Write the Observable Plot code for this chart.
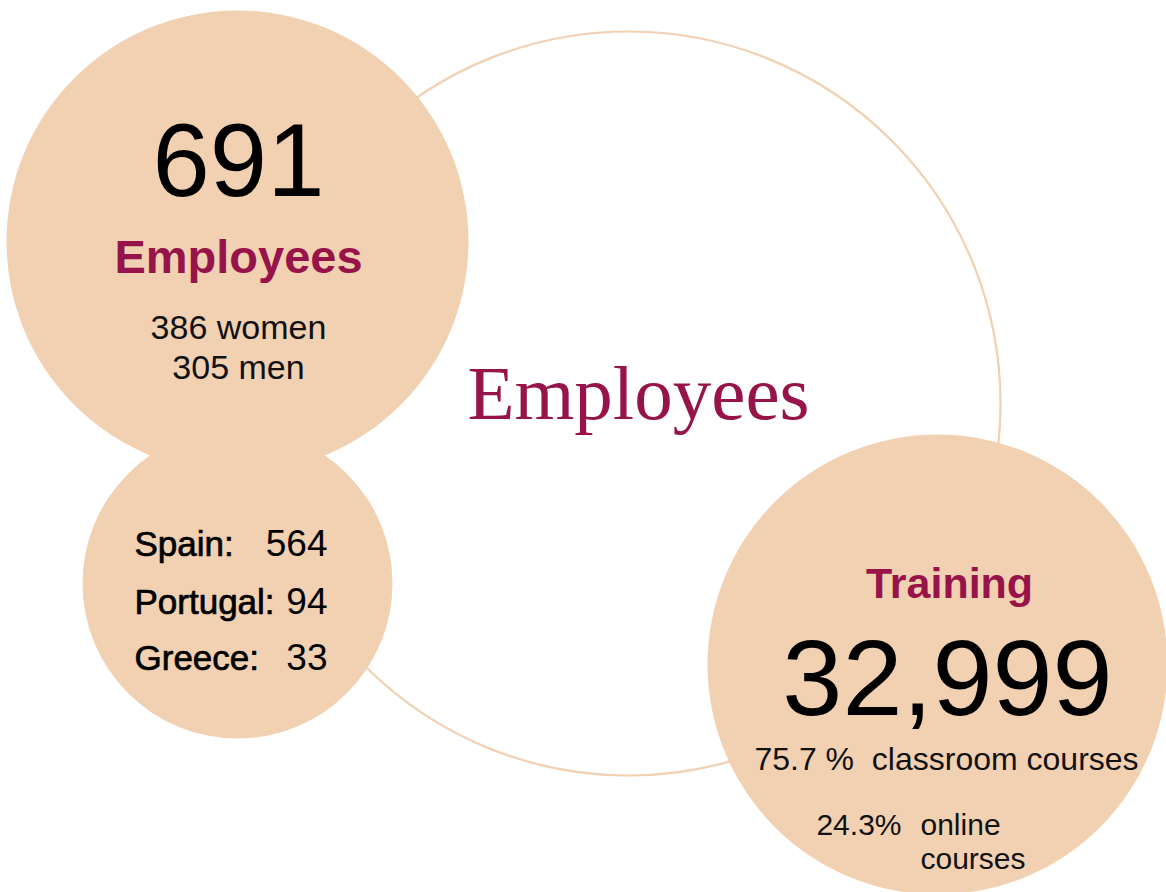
<!DOCTYPE html>
<html>
<head>
<meta charset="utf-8">
<script src="https://cdn.jsdelivr.net/npm/d3@7"></script>
<script src="https://cdn.jsdelivr.net/npm/@observablehq/plot@0.6"></script>
<style>
  html, body { margin: 0; padding: 0; background: #fff; }
  #chart svg { display: block; }
</style>
</head>
<body>
<div id="chart"></div>
<script>
// ---- data ----
const totalEmployees = 691;
const genderLabels = ["women", "men"];
const genderCounts = [386, 305];
const countries = ["Spain", "Portugal", "Greece"];
const countryCounts = [564, 94, 33];
const trainingTotal = 32999;
const courseTypes = ["classroom courses", "online courses"];
const coursePct = ["75.7 %", "24.3%"];

// ---- layout (infographic placement) ----
const bubbleCx = [628, 237, 237, 937];
const bubbleCy = [403, 241, 583, 664];
const bubbleR  = [372, 231, 155, 230];
const bubbleFilled = [false, true, true, true];

const W = 1166, H = 892;
const peach = "#f2d0b2";
const crimson = "#97144a";
const sans = "'Liberation Sans', Arial, sans-serif";
const serif = "'Liberation Serif', 'Times New Roman', serif";

const bubbles = bubbleCx.map((x, i) => ({x, y: bubbleCy[i], r: bubbleR[i], filled: bubbleFilled[i]}));

const fmt = d3.format(",");

const countryRows = countries.map((c, i) => ({label: c + ":", value: countryCounts[i], y: [555, 613, 669][i]}));

const plot = Plot.plot({
  width: W,
  height: H,
  margin: 0,
  x: {domain: [0, W], range: [0, W], axis: null},
  y: {domain: [0, H], range: [0, H], axis: null},
  r: {type: "identity"},
  style: {background: "#fff", overflow: "hidden"},
  marks: [
    Plot.dot(bubbles.filter(d => !d.filled), {x: "x", y: "y", r: "r", fill: "none", stroke: peach, strokeWidth: 2.2}),
    Plot.dot(bubbles.filter(d => d.filled), {x: "x", y: "y", r: "r", fill: peach, stroke: "none"}),

    // centre title
    Plot.text(["Employees"], {x: 638, y: 418, text: d => d, fill: crimson, fontSize: 77, fontFamily: serif, lineAnchor: "bottom", textAnchor: "middle"}),

    // top-left bubble
    Plot.text([totalEmployees], {x: 238, y: 195, text: d => String(d), fill: "#000", fontSize: 103, fontFamily: sans, lineAnchor: "bottom", textAnchor: "middle"}),
    Plot.text(["Employees"], {x: 238, y: 272, text: d => d, fill: crimson, fontSize: 47, fontWeight: "bold", fontFamily: sans, lineAnchor: "bottom", textAnchor: "middle"}),
    Plot.text(genderLabels.map((g, i) => ({t: `${genderCounts[i]} ${g}`, y: [338, 378][i]})), {x: 238, y: "y", text: "t", fill: "#111", fontSize: 34, fontFamily: sans, lineAnchor: "bottom", textAnchor: "middle"}),

    // countries bubble
    Plot.text(countryRows, {x: 134, y: "y", text: "label", fill: "#000", stroke: "#000", strokeWidth: 0.7, fontSize: 35, fontFamily: sans, lineAnchor: "bottom", textAnchor: "start"}),
    Plot.text(countryRows, {x: 327, y: "y", text: d => String(d.value), fill: "#000", fontSize: 37, fontFamily: sans, lineAnchor: "bottom", textAnchor: "end"}),

    // training bubble
    Plot.text(["Training"], {x: 949, y: 597, text: d => d, fill: crimson, fontSize: 43, fontWeight: "bold", fontFamily: sans, lineAnchor: "bottom", textAnchor: "middle"}),
    Plot.text([trainingTotal], {x: 947, y: 714, text: d => fmt(d), fill: "#000", fontSize: 108, fontFamily: sans, lineAnchor: "bottom", textAnchor: "middle"}),
    Plot.text([`${coursePct[0]}\u00a0 ${courseTypes[0]}`], {x: 946, y: 769, text: d => d, fill: "#111", fontSize: 32, fontFamily: sans, lineAnchor: "bottom", textAnchor: "middle"}),
    Plot.text([coursePct[1]], {x: 901, y: 834, text: d => d, fill: "#111", fontSize: 30, fontFamily: sans, lineAnchor: "bottom", textAnchor: "end"}),
    Plot.text([courseTypes[1].split(" ")[0]], {x: 920, y: 834, text: d => d, fill: "#111", fontSize: 30, fontFamily: sans, lineAnchor: "bottom", textAnchor: "start"}),
    Plot.text([courseTypes[1].split(" ")[1]], {x: 920, y: 868, text: d => d, fill: "#111", fontSize: 30, fontFamily: sans, lineAnchor: "bottom", textAnchor: "start"})
  ]
});

document.getElementById("chart").appendChild(plot);
</script>
</body>
</html>
